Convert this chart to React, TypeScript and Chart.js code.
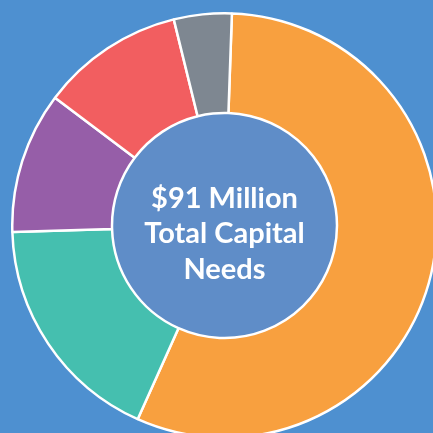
import React, { useEffect, useRef } from "react";
import { Chart, registerables } from "chart.js";

Chart.register(...registerables);

const categories = ["Category A", "Category B", "Category C", "Category D", "Category E"];
const values = [51.1, 16.2, 9.8, 9.9, 4.0];
const colors = ["#F8A03F", "#45BFAF", "#965EA8", "#F25E60", "#7E8791"];
const centerLines = ["$91 Million", "Total Capital", "Needs"];

const BG = "#4E90D0";
const CENTER = "#5F8DC8";

export default function App() {
  const ref = useRef<HTMLCanvasElement | null>(null);
  useEffect(() => {
    if (!ref.current) return;
    const centerPlugin = {
      id: "centerPlugin",
      beforeDatasetsDraw(chart: any) {
        const meta = chart.getDatasetMeta(0);
        const arc = meta.data[0];
        if (!arc) return;
        const { x, y, innerRadius } = arc.getProps(["x", "y", "innerRadius"], true);
        const ctx = chart.ctx;
        ctx.save();
        ctx.beginPath();
        ctx.arc(x, y, innerRadius, 0, Math.PI * 2);
        ctx.fillStyle = CENTER;
        ctx.fill();
        ctx.restore();
      },
      afterDraw(chart: any) {
        const meta = chart.getDatasetMeta(0);
        const arc = meta.data[0];
        if (!arc) return;
        const { x, y } = arc.getProps(["x", "y"], true);
        const ctx = chart.ctx;
        ctx.save();
        ctx.fillStyle = "#FFFFFF";
        ctx.textAlign = "center";
        ctx.textBaseline = "alphabetic";
        ctx.font = "bold 29px Lato";
        const offs = [-17.5, 17.5, 53];
        centerLines.forEach((t, i) => ctx.fillText(t, x, y + offs[i]));
        ctx.restore();
      },
    };
    const chart = new Chart(ref.current, {
      type: "doughnut",
      data: {
        labels: categories,
        datasets: [
          {
            data: values,
            backgroundColor: colors,
            borderColor: "#FFFFFF",
            borderWidth: 2.5,
          },
        ],
      },
      options: {
        responsive: false,
        animation: false,
        rotation: 2,
        cutout: "53%",
        layout: { padding: 0 },
        plugins: {
          legend: { display: false },
          tooltip: { enabled: false },
        },
      },
      plugins: [centerPlugin],
    });
    return () => chart.destroy();
  }, []);

  return (
    <div
      style={{
        position: "fixed",
        left: 0,
        top: 0,
        width: 433,
        height: 433,
        overflow: "hidden",
        background: BG,
      }}
    >
      <canvas
        ref={ref}
        width={427}
        height={427}
        style={{ position: "absolute", left: 11, top: 12, width: 427, height: 427 }}
      />
    </div>
  );
}
